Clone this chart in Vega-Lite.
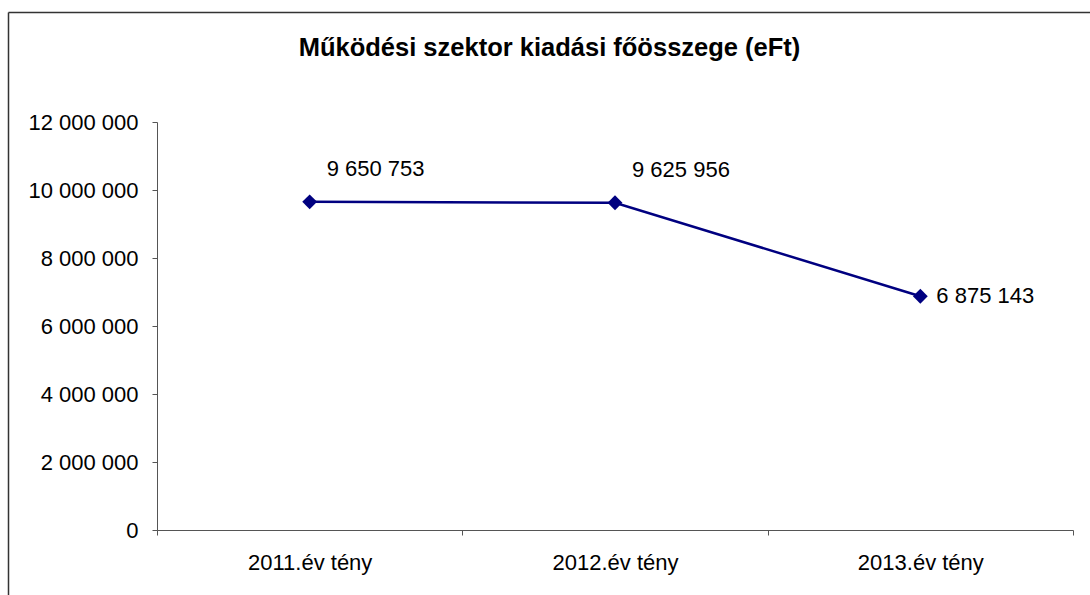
{
  "$schema": "https://vega.github.io/schema/vega-lite/v6.json",
  "autosize": "none",
  "padding": {"left": 8, "top": 12, "right": 0, "bottom": 0},
  "width": 1082,
  "height": 583,
  "background": "white",
  "config": {
    "font": "Liberation Sans",
    "locale": {"number": {"decimal": ",", "thousands": " ", "grouping": [3], "currency": ["", " Ft"]}},
    "view": {"stroke": null},
    "axis": {"grid": false, "domainColor": "#555555", "tickColor": "#555555", "labelColor": "#000000", "labelFont": "Liberation Sans", "labelFontSize": 22, "title": null}
  },
  "data": {
    "values": [
      {"ev": "2011.év tény", "ertek": 9650753},
      {"ev": "2012.év tény", "ertek": 9625956},
      {"ev": "2013.év tény", "ertek": 6875143}
    ]
  },
  "resolve": {"scale": {"x": "independent"}, "axis": {"x": "independent"}},
  "layer": [
    {
      "encoding": {
        "x": {
          "field": "ev",
          "type": "nominal",
          "sort": null,
          "scale": {"type": "band", "range": [149, 1065], "paddingInner": 0, "paddingOuter": 0},
          "axis": {"orient": "bottom", "offset": -65, "labelAngle": 0, "tickBand": "extent", "tickSize": 5, "labelPadding": 17}
        },
        "y": {
          "field": "ertek",
          "type": "quantitative",
          "scale": {"domain": [0, 12000000], "range": [518, 110], "nice": false, "zero": true},
          "axis": {"orient": "left", "offset": -149, "values": [0, 2000000, 4000000, 6000000, 8000000, 10000000, 12000000], "format": ",.0f", "tickSize": 5, "labelPadding": 14}
        }
      },
      "layer": [
        {"mark": {"type": "line", "color": "#000080", "strokeWidth": 2.5}},
        {"mark": {"type": "point", "shape": "diamond", "filled": true, "opacity": 1, "color": "#000080", "size": 220}},
        {
          "transform": [{"filter": "datum.ev !== '2013.év tény'"}],
          "mark": {"type": "text", "align": "left", "baseline": "middle", "dx": 17, "dy": -33, "fontSize": 22, "color": "#000000"},
          "encoding": {"text": {"field": "ertek", "type": "quantitative", "format": ",.0f"}}
        },
        {
          "transform": [{"filter": "datum.ev === '2013.év tény'"}],
          "mark": {"type": "text", "align": "left", "baseline": "middle", "dx": 16, "dy": 0, "fontSize": 22, "color": "#000000"},
          "encoding": {"text": {"field": "ertek", "type": "quantitative", "format": ",.0f"}}
        }
      ]
    },
    {
      "mark": {"type": "point", "opacity": 0},
      "encoding": {
        "x": {
          "field": "ev",
          "type": "nominal",
          "sort": null,
          "scale": {"type": "band", "range": [0, 3300], "paddingInner": 0, "paddingOuter": 0},
          "axis": {
            "orient": "top",
            "offset": 0,
            "ticks": false,
            "labels": false,
            "domain": true,
            "domainColor": "#333333",
            "domainWidth": 1.5,
            "grid": true,
            "gridColor": "#333333",
            "gridWidth": 1.5,
            "bandPosition": 0,
            "title": "Működési szektor kiadási főösszege (eFt)",
            "titleFont": "Liberation Sans",
            "titleFontSize": 25.5,
            "titleFontWeight": "bold",
            "titleColor": "#000000",
            "titleAlign": "center",
            "titleBaseline": "middle",
            "titleX": 541,
            "titleY": 35
          }
        }
      }
    }
  ]
}
